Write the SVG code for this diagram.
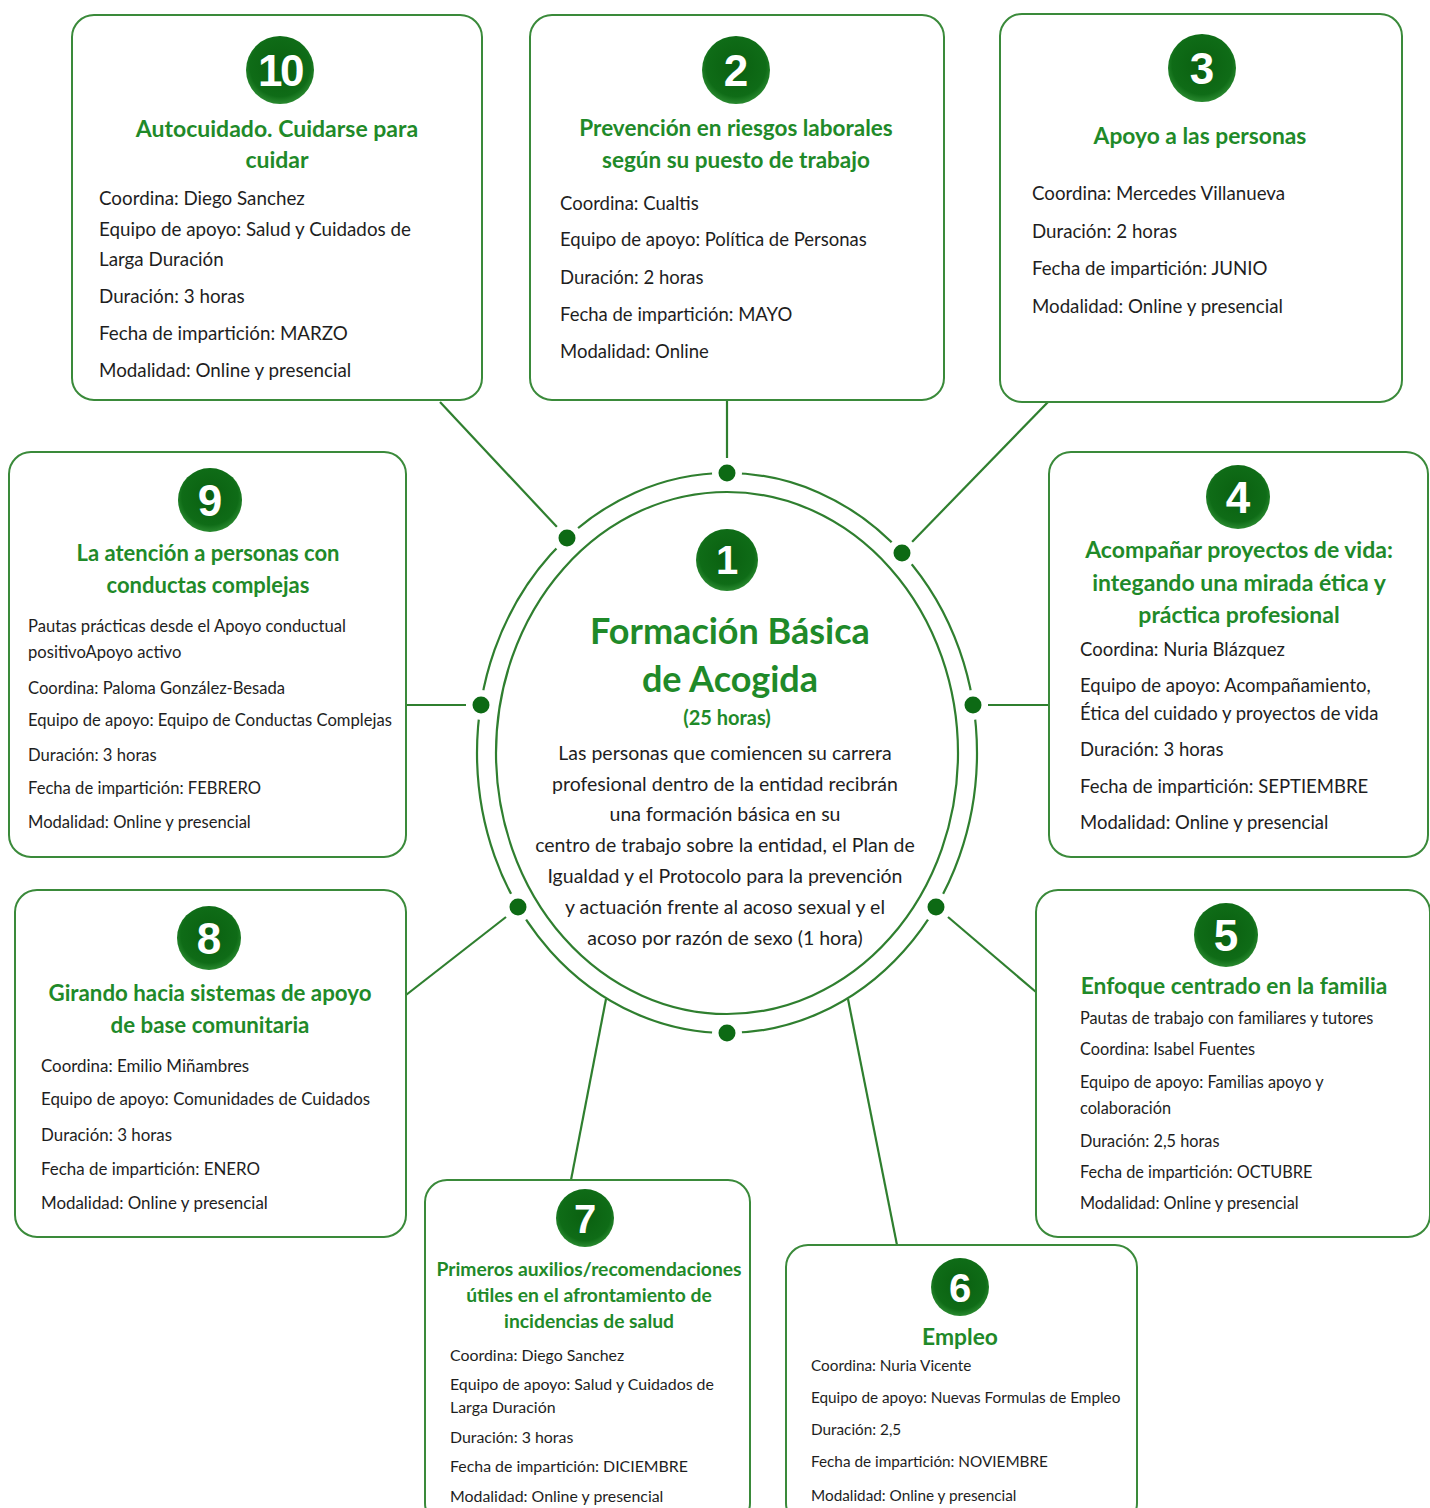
<svg xmlns="http://www.w3.org/2000/svg" width="1430" height="1508" viewBox="0 0 1430 1508">
<defs>
<radialGradient id="gc" cx="50%" cy="45%" r="55%">
<stop offset="0%" stop-color="#0a6010"/>
<stop offset="80%" stop-color="#0f6c17"/>
<stop offset="100%" stop-color="#2a8a30"/>
</radialGradient>
<style>
.box{fill:#fff;stroke:#3a8a3a;stroke-width:2}
.num{fill:url(#gc)}
.nt{font-family:"Liberation Sans",Arial,sans-serif;font-weight:bold;fill:#fff;text-anchor:middle}
.tt{font-family:Lato,"Open Sans",sans-serif;font-weight:bold;fill:#1f8a29;text-anchor:middle}
.bt{font-family:Lato,"Open Sans",sans-serif;fill:#1e1e1e}
.ln{stroke:#2f7f2f;stroke-width:2.2;fill:none}
.dot{fill:#0d6a14}
.gap{fill:#fff}
</style>
</defs>
<rect width="1430" height="1508" fill="#fff"/>

<g id="connectors">
<line class="ln" x1="727" y1="458" x2="727" y2="400"/>
<line class="ln" x1="557" y1="527" x2="440" y2="402"/>
<line class="ln" x1="912" y1="542" x2="1048" y2="402"/>
<line class="ln" x1="466" y1="705" x2="406" y2="705"/>
<line class="ln" x1="988" y1="705" x2="1049" y2="705"/>
<line class="ln" x1="506" y1="917" x2="406" y2="995"/>
<line class="ln" x1="948" y1="917" x2="1036" y2="992"/>
<line class="ln" x1="606" y1="999" x2="571" y2="1180"/>
<line class="ln" x1="848" y1="999" x2="897" y2="1245"/>
</g>

<g id="node1">
<ellipse class="ln" cx="727" cy="753" rx="250" ry="280"/>
<ellipse class="ln" cx="727" cy="753" rx="231" ry="261"/>
<circle class="gap" cx="727" cy="473" r="15"/>
<circle class="gap" cx="567" cy="538" r="15"/>
<circle class="gap" cx="902" cy="553" r="15"/>
<circle class="gap" cx="481" cy="705" r="15"/>
<circle class="gap" cx="973" cy="705" r="15"/>
<circle class="gap" cx="518" cy="907" r="15"/>
<circle class="gap" cx="936" cy="907" r="15"/>
<circle class="gap" cx="727" cy="1033" r="15"/>
<circle class="dot" cx="727" cy="473" r="8.5"/>
<circle class="dot" cx="567" cy="538" r="8.5"/>
<circle class="dot" cx="902" cy="553" r="8.5"/>
<circle class="dot" cx="481" cy="705" r="8.5"/>
<circle class="dot" cx="973" cy="705" r="8.5"/>
<circle class="dot" cx="518" cy="907" r="8.5"/>
<circle class="dot" cx="936" cy="907" r="8.5"/>
<circle class="dot" cx="727" cy="1033" r="8.5"/>
<circle class="num" cx="727" cy="560" r="31"/>
<text class="nt" x="727" y="574" font-size="40">1</text>
<text class="tt" x="730" y="644" font-size="36">Formación Básica</text>
<text class="tt" x="730" y="692" font-size="36">de Acogida</text>
<text class="tt" x="727" y="725" font-size="20">(25 horas)</text>
<g class="bt" font-size="19.5" text-anchor="middle">
<text x="725" y="760">Las personas que comiencen su carrera</text>
<text x="725" y="791">profesional dentro de la entidad recibrán</text>
<text x="725" y="821">una formación básica en su</text>
<text x="725" y="852">centro de trabajo sobre la entidad, el Plan de</text>
<text x="725" y="883">Igualdad y el Protocolo para la prevención</text>
<text x="725" y="914">y actuación frente al acoso sexual y el</text>
<text x="725" y="945">acoso por razón de sexo (1 hora)</text>
</g>
</g>

<g id="node10">
<rect class="box" x="72" y="15" width="410" height="385" rx="22"/>
<circle class="num" cx="280" cy="70" r="34"/>
<text class="nt" x="280" y="86" font-size="44" letter-spacing="-2.5">10</text>
<text class="tt" x="277" y="137" font-size="23">Autocuidado. Cuidarse para</text>
<text class="tt" x="277" y="168" font-size="23">cuidar</text>
<g class="bt" font-size="18.8">
<text x="99" y="205">Coordina: Diego Sanchez</text>
<text x="99" y="236">Equipo de apoyo: Salud y Cuidados de</text>
<text x="99" y="266">Larga Duración</text>
<text x="99" y="303">Duración: 3 horas</text>
<text x="99" y="340">Fecha de impartición: MARZO</text>
<text x="99" y="377">Modalidad: Online y presencial</text>
</g>
</g>

<g id="node2">
<rect class="box" x="530" y="15" width="414" height="385" rx="22"/>
<circle class="num" cx="736" cy="70" r="34"/>
<text class="nt" x="736" y="86" font-size="44">2</text>
<text class="tt" x="736" y="136" font-size="22.5">Prevención en riesgos laborales</text>
<text class="tt" x="736" y="168" font-size="22.5">según su puesto de trabajo</text>
<g class="bt" font-size="18.5">
<text x="560" y="210">Coordina: Cualtis</text>
<text x="560" y="246">Equipo de apoyo: Política de Personas</text>
<text x="560" y="284">Duración: 2 horas</text>
<text x="560" y="321">Fecha de impartición: MAYO</text>
<text x="560" y="358">Modalidad: Online</text>
</g>
</g>

<g id="node3">
<rect class="box" x="1000" y="14" width="402" height="388" rx="22"/>
<circle class="num" cx="1202" cy="68" r="34"/>
<text class="nt" x="1202" y="84" font-size="44">3</text>
<text class="tt" x="1200" y="144" font-size="22.8">Apoyo a las personas</text>
<g class="bt" font-size="18.7">
<text x="1032" y="200">Coordina: Mercedes Villanueva</text>
<text x="1032" y="238">Duración: 2 horas</text>
<text x="1032" y="275">Fecha de impartición: JUNIO</text>
<text x="1032" y="313">Modalidad: Online y presencial</text>
</g>
</g>

<g id="node9">
<rect class="box" x="9" y="452" width="397" height="405" rx="22"/>
<circle class="num" cx="210" cy="500" r="32"/>
<text class="nt" x="210" y="516" font-size="44">9</text>
<text class="tt" x="208" y="561" font-size="22">La atención a personas con</text>
<text class="tt" x="208" y="593" font-size="22">conductas complejas</text>
<g class="bt" font-size="16.6">
<text x="28" y="632">Pautas prácticas desde el Apoyo conductual</text>
<text x="28" y="658">positivoApoyo activo</text>
<text x="28" y="694">Coordina: Paloma González-Besada</text>
<text x="28" y="726">Equipo de apoyo: Equipo de Conductas Complejas</text>
<text x="28" y="761">Duración: 3 horas</text>
<text x="28" y="794">Fecha de impartición: FEBRERO</text>
<text x="28" y="828">Modalidad: Online y presencial</text>
</g>
</g>

<g id="node4">
<rect class="box" x="1049" y="452" width="379" height="405" rx="22"/>
<circle class="num" cx="1238" cy="497" r="32"/>
<text class="nt" x="1238" y="513" font-size="44">4</text>
<text class="tt" x="1239" y="558" font-size="23">Acompañar proyectos de vida:</text>
<text class="tt" x="1239" y="591" font-size="23">integando una mirada ética y</text>
<text class="tt" x="1239" y="623" font-size="23">práctica profesional</text>
<g class="bt" font-size="18.5">
<text x="1080" y="656">Coordina: Nuria Blázquez</text>
<text x="1080" y="692">Equipo de apoyo: Acompañamiento,</text>
<text x="1080" y="720">Ética del cuidado y proyectos de vida</text>
<text x="1080" y="756">Duración: 3 horas</text>
<text x="1080" y="793">Fecha de impartición: SEPTIEMBRE</text>
<text x="1080" y="829">Modalidad: Online y presencial</text>
</g>
</g>

<g id="node8">
<rect class="box" x="15" y="890" width="391" height="347" rx="22"/>
<circle class="num" cx="209" cy="938" r="32"/>
<text class="nt" x="209" y="954" font-size="44">8</text>
<text class="tt" x="210" y="1001" font-size="22.3">Girando hacia sistemas de apoyo</text>
<text class="tt" x="210" y="1033" font-size="22.3">de base comunitaria</text>
<g class="bt" font-size="16.9">
<text x="41" y="1072">Coordina: Emilio Miñambres</text>
<text x="41" y="1105">Equipo de apoyo: Comunidades de Cuidados</text>
<text x="41" y="1141">Duración: 3 horas</text>
<text x="41" y="1175">Fecha de impartición: ENERO</text>
<text x="41" y="1209">Modalidad: Online y presencial</text>
</g>
</g>

<g id="node5">
<rect class="box" x="1036" y="890" width="394" height="347" rx="22"/>
<circle class="num" cx="1226" cy="935" r="32"/>
<text class="nt" x="1226" y="951" font-size="44">5</text>
<text class="tt" x="1234" y="994" font-size="22.8">Enfoque centrado en la familia</text>
<g class="bt" font-size="16.3">
<text x="1080" y="1024">Pautas de trabajo con familiares y tutores</text>
<text x="1080" y="1055">Coordina: Isabel Fuentes</text>
<text x="1080" y="1088">Equipo de apoyo: Familias apoyo y</text>
<text x="1080" y="1114">colaboración</text>
<text x="1080" y="1147">Duración: 2,5 horas</text>
<text x="1080" y="1178">Fecha de impartición: OCTUBRE</text>
<text x="1080" y="1209">Modalidad: Online y presencial</text>
</g>
</g>

<g id="node7">
<rect class="box" x="425" y="1180" width="325" height="345" rx="22"/>
<circle class="num" cx="585" cy="1218" r="29"/>
<text class="nt" x="585" y="1233" font-size="40">7</text>
<text class="tt" x="589" y="1276" font-size="19.3">Primeros auxilios/recomendaciones</text>
<text class="tt" x="589" y="1302" font-size="19.3">útiles en el afrontamiento de</text>
<text class="tt" x="589" y="1328" font-size="19.3">incidencias de salud</text>
<g class="bt" font-size="15.9">
<text x="450" y="1361">Coordina: Diego Sanchez</text>
<text x="450" y="1390">Equipo de apoyo: Salud y Cuidados de</text>
<text x="450" y="1413">Larga Duración</text>
<text x="450" y="1443">Duración: 3 horas</text>
<text x="450" y="1472">Fecha de impartición: DICIEMBRE</text>
<text x="450" y="1502">Modalidad: Online y presencial</text>
</g>
</g>

<g id="node6">
<rect class="box" x="786" y="1245" width="351" height="280" rx="22"/>
<circle class="num" cx="960" cy="1287" r="29"/>
<text class="nt" x="960" y="1302" font-size="40">6</text>
<text class="tt" x="960" y="1345" font-size="22.8">Empleo</text>
<g class="bt" font-size="15.3">
<text x="811" y="1371">Coordina: Nuria Vicente</text>
<text x="811" y="1403">Equipo de apoyo: Nuevas Formulas de Empleo</text>
<text x="811" y="1435">Duración: 2,5</text>
<text x="811" y="1467">Fecha de impartición: NOVIEMBRE</text>
<text x="811" y="1501">Modalidad: Online y presencial</text>
</g>
</g>
</svg>
